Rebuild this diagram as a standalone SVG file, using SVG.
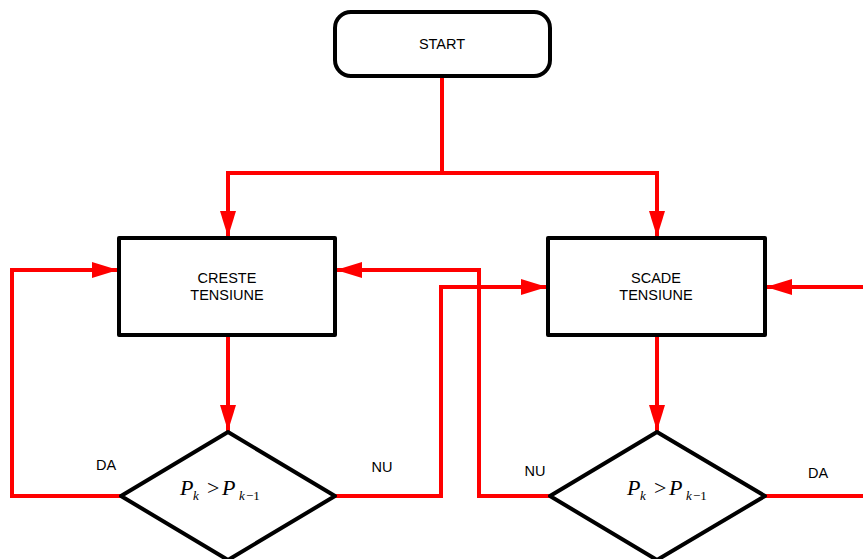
<svg xmlns="http://www.w3.org/2000/svg" width="863" height="559" viewBox="0 0 863 559">
<style>
.node{fill:#fff;stroke:#000;stroke-width:4;stroke-linejoin:round}
.lbl{font-family:"Liberation Sans",Arial,sans-serif;font-size:14.5px;fill:#000;text-anchor:middle}
.math{font-family:"Liberation Serif","Times New Roman",serif;font-style:italic;fill:#000}
.sub{font-size:13px}
.big{font-size:22px}
.up{font-style:normal}
.edge{fill:none;stroke:#ff0000;stroke-width:4;stroke-linejoin:miter}
</style>
<defs>
<marker id="ah" markerUnits="userSpaceOnUse" markerWidth="28" markerHeight="18" refX="26" refY="8" orient="auto">
<path d="M0,0 L26,8 L0,16 Z" fill="#ff0000"/>
</marker>
</defs>
<g id="connectors">
<path class="edge" d="M442,76 V173 H228 V237" marker-end="url(#ah)"/>
<path class="edge" d="M442,173 H657 V237" marker-end="url(#ah)"/>
<path class="edge" d="M228,335 V431" marker-end="url(#ah)"/>
<path class="edge" d="M657,335 V431" marker-end="url(#ah)"/>
<path class="edge" d="M121,496 H12 V270 H118" marker-end="url(#ah)"/>
<path class="edge" d="M335,496 H441 V287 H547" marker-end="url(#ah)"/>
<path class="edge" d="M550,496 H479 V270 H336" marker-end="url(#ah)"/>
<path class="edge" d="M863,287 H766" marker-end="url(#ah)"/>
<path class="edge" d="M765,496 H863"/>
</g>
<g id="start">
<rect class="node" x="335" y="12" width="215" height="64" rx="16"/>
<text class="lbl" x="442" y="49">START</text>
</g>
<g id="creste">
<rect class="node" x="119" y="238" width="216" height="97"/>
<text class="lbl" x="227" y="283">CRESTE</text>
<text class="lbl" x="227" y="300">TENSIUNE</text>
</g>
<g id="scade">
<rect class="node" x="548" y="238" width="217" height="97"/>
<text class="lbl" x="656" y="283">SCADE</text>
<text class="lbl" x="656" y="300">TENSIUNE</text>
</g>
<g id="dec1">
<polygon class="node" points="228,432 335,496 228,560 121,496"/>
<text class="math"><tspan class="big" x="180" y="495">P</tspan><tspan class="sub" x="193" y="500">k</tspan><tspan class="big up" x="207" y="495">&gt;</tspan><tspan class="big" x="222" y="495">P</tspan><tspan class="sub" x="239" y="500">k</tspan><tspan class="sub up" x="246" y="500">−1</tspan></text>
</g>
<g id="dec2">
<polygon class="node" points="657,432 765,496 657,560 550,496"/>
<text class="math"><tspan class="big" x="627" y="495">P</tspan><tspan class="sub" x="640" y="500">k</tspan><tspan class="big up" x="654" y="495">&gt;</tspan><tspan class="big" x="669" y="495">P</tspan><tspan class="sub" x="686" y="500">k</tspan><tspan class="sub up" x="693" y="500">−1</tspan></text>
</g>
<g id="labels">
<text class="lbl" x="106" y="470">DA</text>
<text class="lbl" x="382" y="472">NU</text>
<text class="lbl" x="535" y="476">NU</text>
<text class="lbl" x="818" y="478">DA</text>
</g>
</svg>
